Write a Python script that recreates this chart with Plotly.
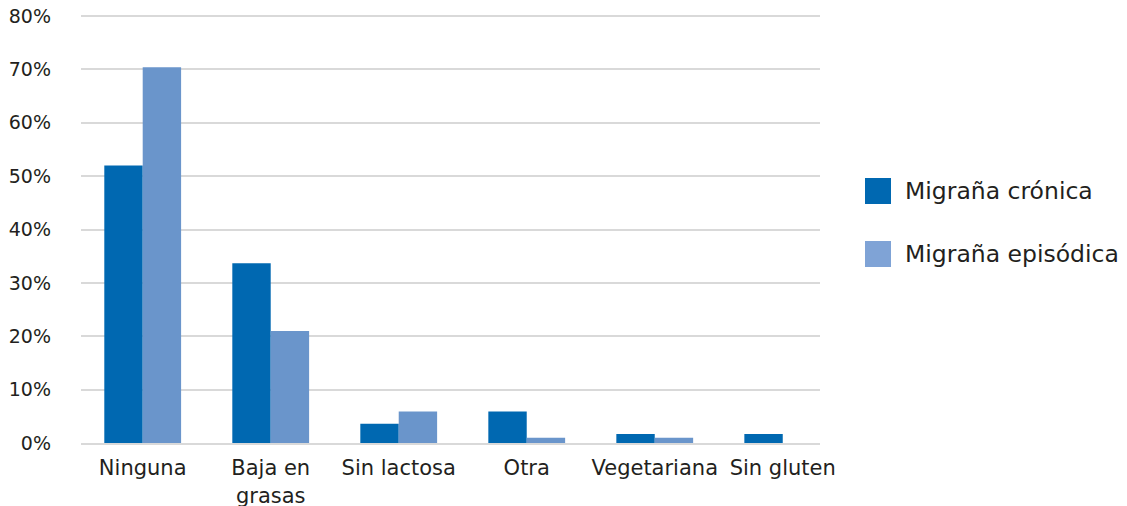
import plotly.graph_objects as go

categories = ["Ninguna", "Baja en<br>grasas", "Sin lactosa", "Otra", "Vegetariana", "Sin gluten"]
cronica = [52.0, 33.7, 3.6, 5.9, 1.7, 1.7]
episodica = [70.4, 21.0, 5.9, 1.0, 1.0, 0.0]
series_names = ["Migraña crónica", "Migraña episódica"]
colors = ["#0068B1", "#6A95CB"]
legend_colors = ["#0068B1", "#7FA3D6"]
y_ticks = [0, 10, 20, 30, 40, 50, 60, 70, 80]
y_tick_labels = [f"{v}%" for v in y_ticks]

# page body has an 8px margin; compensate so the plot lands where the reference's does
OFF = 8
W, H = 1127 - OFF, 506 - OFF
L, R, T, B = 81 - OFF, 307, 15 - OFF, 63
pw, ph = W - L - R, H - T - B
plot_left, plot_bottom = L + OFF, H - B + OFF  # page pixel coords

fig = go.Figure()
for name, vals, col in zip(series_names, [cronica, episodica], colors):
    fig.add_trace(go.Bar(x=categories, y=vals, name=name, showlegend=False,
                         marker=dict(color=col, line=dict(width=0))))

# manual legend (large square swatches like the reference)
for i, (name, col) in enumerate(zip(series_names, legend_colors)):
    cy = 191 + i * 63
    fig.add_shape(type="rect", xref="paper", yref="paper",
                  x0=(865 - plot_left) / pw, x1=(891 - plot_left) / pw,
                  y0=(plot_bottom - (cy + 13)) / ph, y1=(plot_bottom - (cy - 13)) / ph,
                  fillcolor=col, line=dict(width=0))
    fig.add_annotation(xref="paper", yref="paper", x=(903 - plot_left) / pw,
                       y=(plot_bottom - cy) / ph,
                       text=name, showarrow=False, xanchor="left", yanchor="middle",
                       font=dict(size=23.5, family="DejaVu Sans", color="#231F20"))

fig.update_layout(
    width=W, height=H,
    margin=dict(l=L, r=R, t=T, b=B),
    paper_bgcolor="white", plot_bgcolor="white",
    barmode="group", bargap=0.4, bargroupgap=0,
    font=dict(family="DejaVu Sans", size=21, color="#231F20"),
    showlegend=False,
)
fig.update_yaxes(range=[0, 80.2], tickvals=y_ticks, ticktext=y_tick_labels,
                 tickfont=dict(size=19),
                 showgrid=True, gridcolor="#D9D9D9", gridwidth=1.5,
                 zeroline=False, ticks="", showline=False, ticklabelstandoff=29,
                 ticklabeloverflow="allow", automargin=False)
fig.update_xaxes(range=[-0.482, 5.291], showline=True, linecolor="#D9D9D9", linewidth=2,
                 ticks="", ticklabelstandoff=5, ticklabeloverflow="allow", automargin=False)

fig.write_html("out.html")
